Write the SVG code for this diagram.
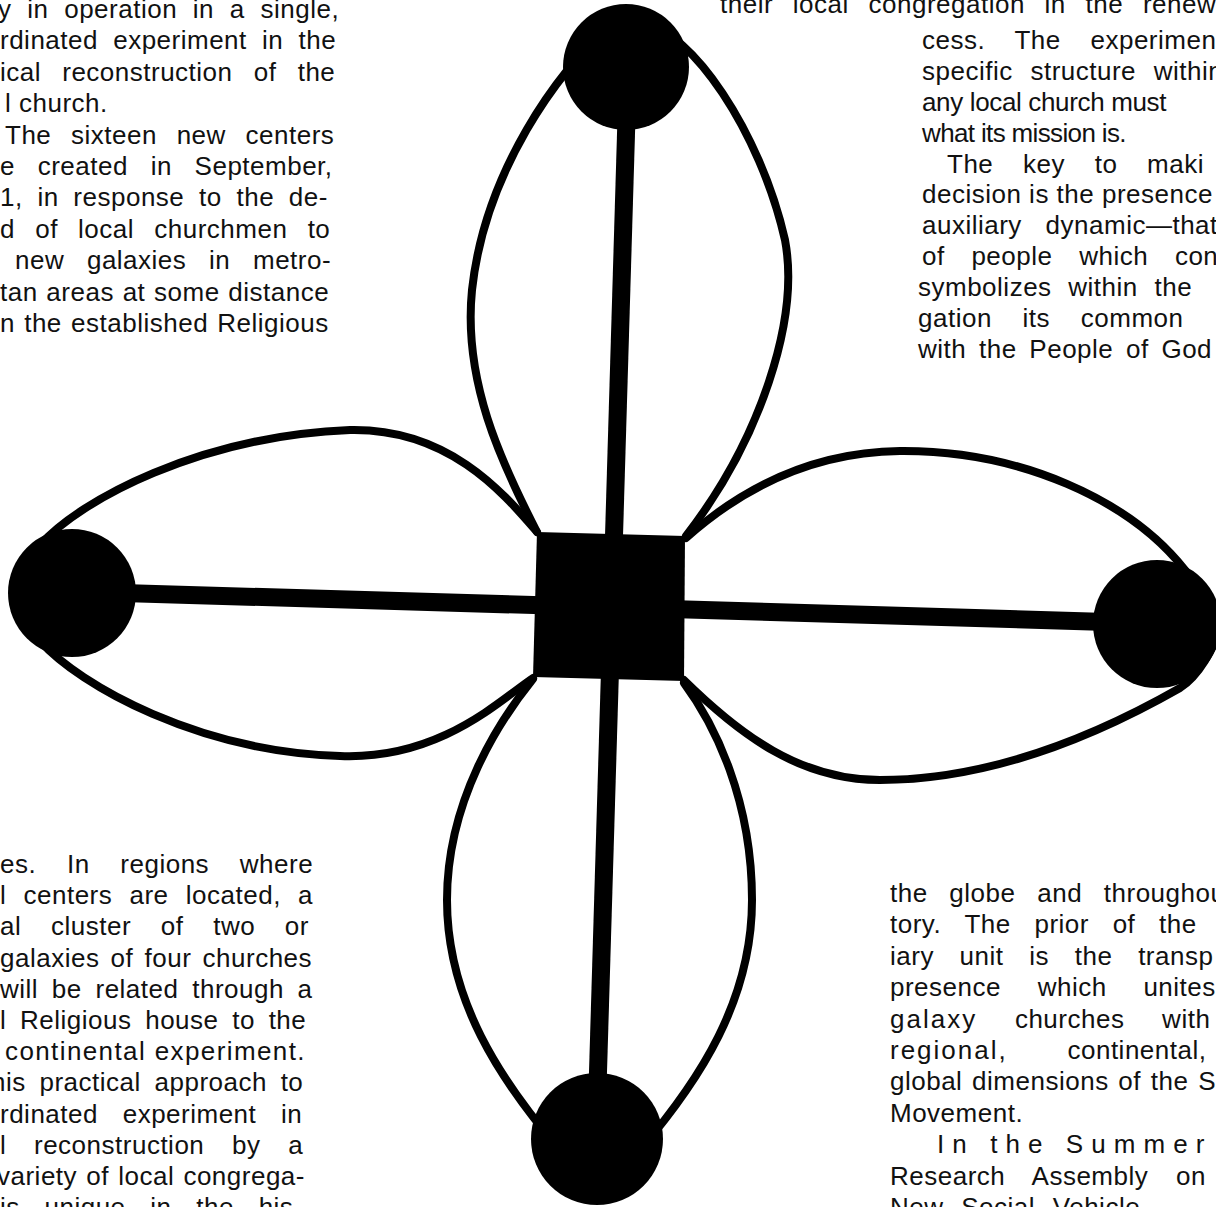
<svg xmlns="http://www.w3.org/2000/svg" width="1216" height="1207" viewBox="0 0 1216 1207">
<style>
.t{font-family:"Liberation Sans",Arial,sans-serif;font-size:26px;fill:#111;letter-spacing:0.5px}
.petal{fill:none;stroke:#000;stroke-width:8;stroke-linecap:round}
.bar{stroke:#000;stroke-width:18}
.hub{fill:#000}
</style>
<rect width="1216" height="1207" fill="#fff"/>
<g id="text-top-left" class="t">
<text x="-2" y="18" style="word-spacing:8px">y in operation in a single,</text>
<text x="0" y="49.4" style="word-spacing:7.5px">rdinated experiment in the</text>
<text x="0" y="80.8" style="word-spacing:13.5px">ical reconstruction of the</text>
<text x="5" y="112.2">l church.</text>
<text x="5" y="143.6" style="word-spacing:12px">The sixteen new centers</text>
<text x="0" y="175" style="word-spacing:15px">e created in September,</text>
<text x="0" y="206.4" style="word-spacing:7px">1, in response to the de-</text>
<text x="0" y="237.8" style="word-spacing:12.5px">d of local churchmen to</text>
<text x="15" y="269.2" style="word-spacing:15px">new galaxies in metro-</text>
<text x="0" y="300.6" style="word-spacing:1px">tan areas at some distance</text>
<text x="0" y="332" style="word-spacing:1.5px">n the established Religious</text>
</g>
<g id="text-top-right" class="t">
<text x="720" y="13" style="word-spacing:12px">their local congregation in the renew</text>
<text x="922" y="48.9" style="word-spacing:22px">cess. The experiment</text>
<text x="922" y="79.8" style="word-spacing:10px">specific structure within</text>
<text x="922" y="110.7" textLength="245" lengthAdjust="spacing">any local church must</text>
<text x="922" y="141.6" textLength="205" lengthAdjust="spacing">what its mission is.</text>
<text x="947" y="172.5" style="word-spacing:22px">The key to maki</text>
<text x="922" y="203.4">decision is the presence</text>
<text x="922" y="234.3" style="word-spacing:16px">auxiliary dynamic—that</text>
<text x="922" y="265.2" style="word-spacing:19px">of people which con</text>
<text x="918" y="296.1" style="word-spacing:9px">symbolizes within the</text>
<text x="918" y="327" style="word-spacing:23px">gation its common</text>
<text x="918" y="357.9" style="word-spacing:5px">with the People of God</text>
</g>
<g id="text-bottom-left" class="t">
<text x="0" y="873" style="word-spacing:23px">es. In regions where</text>
<text x="0" y="904.2" style="word-spacing:9.5px">l centers are located, a</text>
<text x="0" y="935.4" style="word-spacing:22px">al cluster of two or</text>
<text x="0" y="966.6" style="word-spacing:3.5px">galaxies of four churches</text>
<text x="0" y="997.8" style="word-spacing:6px">will be related through a</text>
<text x="0" y="1029" style="word-spacing:6px">l Religious house to the</text>
<text x="5" y="1060.2" textLength="300" lengthAdjust="spacing">continental experiment.</text>
<text x="-9" y="1091.4" style="word-spacing:6px">his practical approach to</text>
<text x="0" y="1122.6" style="word-spacing:17px">rdinated experiment in</text>
<text x="0" y="1153.8" style="word-spacing:20px">l reconstruction by a</text>
<text x="-3" y="1185" style="word-spacing:1.5px">variety of local congrega-</text>
<text x="0" y="1216" style="word-spacing:17px">is unique in the his-</text>
</g>
<g id="text-bottom-right" class="t">
<text x="890" y="902" style="word-spacing:14px">the globe and throughout</text>
<text x="890" y="933.4" style="word-spacing:16px">tory. The prior of the</text>
<text x="890" y="964.8" style="word-spacing:18px">iary unit is the transp</text>
<text x="890" y="996.2" style="word-spacing:29px">presence which unites</text>
<text x="890" y="1027.6" style="word-spacing:30px"><tspan style="letter-spacing:2px">galaxy</tspan> churches with</text>
<text x="890" y="1059" style="word-spacing:52px"><tspan style="letter-spacing:2px">regional,</tspan> continental,</text>
<text x="890" y="1090.4" style="word-spacing:2px">global dimensions of the S</text>
<text x="890" y="1121.8">Movement.</text>
<text x="937" y="1153.2" textLength="268" lengthAdjust="spacing">In the Summer</text>
<text x="890" y="1184.6" style="word-spacing:20px">Research Assembly on</text>
<text x="890" y="1216" style="word-spacing:10px">New Social Vehicle</text>
</g>
<g id="petals">
<path class="petal" d="M605,30 C560,70 485,170 472,290 C463,380 500,460 537,532"/>
<path class="petal" d="M645,25 C690,30 760,130 785,240 C800,320 760,440 686,536"/>
<path class="petal" d="M40,545 C80,500 200,436 350,430 C450,428 505,495 537,532"/>
<path class="petal" d="M40,641 C80,686 200,752 340,756 C440,760 500,700 533,678"/>
<path class="petal" d="M686,538 C740,490 810,452 900,451 C1020,450 1130,500 1185,570 C1200,590 1212,610 1222,626"/>
<path class="petal" d="M684,680 C740,735 800,780 880,780 C980,780 1080,745 1180,688 C1200,675 1212,650 1222,626"/>
<path class="petal" d="M533,679 C500,720 447,800 447,900 C447,1000 500,1080 560,1150"/>
<path class="petal" d="M684,683 C715,725 752,800 752,900 C752,1000 700,1080 640,1150"/>
</g>
<g id="connectors">
<line class="bar" x1="628" y1="67" x2="596" y2="1139"/>
<line class="bar" x1="72" y1="591.5" x2="1157" y2="623.4"/>
</g>
<g id="node-top"><circle class="hub" cx="626" cy="67" r="63"/></g>
<g id="node-left"><circle class="hub" cx="72" cy="593" r="64"/></g>
<g id="node-right"><circle class="hub" cx="1157" cy="624" r="64"/></g>
<g id="node-bottom"><circle class="hub" cx="597" cy="1139" r="66"/></g>
<g id="node-center"><polygon class="hub" points="537,532 685,536 684,681 533,677"/></g>
</svg>
